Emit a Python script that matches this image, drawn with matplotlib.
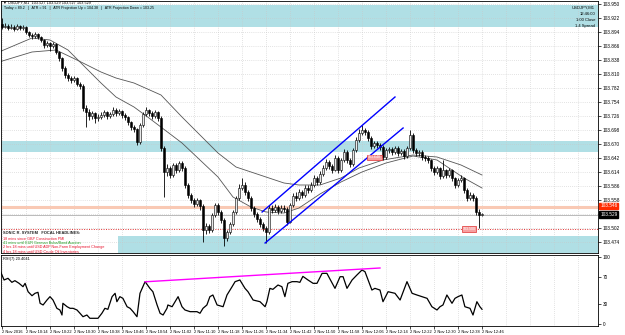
import matplotlib
matplotlib.use("Agg")
import matplotlib.pyplot as plt

plt.rcParams['font.family'] = ['Liberation Sans', 'DejaVu Sans']

# ---- data (USDJPY M1, 2 Nov 2016, 10:06 .. 12:46) ----
first_open = 103.910
closes = [103.904, 103.906, 103.902, 103.904, 103.900, 103.906, 103.902, 103.904, 103.894, 103.888,
          103.886, 103.890, 103.884, 103.878, 103.868, 103.872, 103.866, 103.870, 103.854, 103.842,
          103.822, 103.808, 103.802, 103.798, 103.802, 103.790, 103.786, 103.742, 103.734, 103.726,
          103.732, 103.722, 103.724, 103.728, 103.734, 103.726, 103.730, 103.738, 103.732, 103.736,
          103.728, 103.724, 103.714, 103.704, 103.700, 103.674, 103.708, 103.730, 103.738, 103.732,
          103.726, 103.734, 103.722, 103.662, 103.614, 103.622, 103.608, 103.628, 103.618, 103.632,
          103.622, 103.588, 103.568, 103.558, 103.550, 103.558, 103.546, 103.498, 103.506, 103.498,
          103.528, 103.548, 103.534, 103.518, 103.482, 103.494, 103.510, 103.534, 103.562, 103.582,
          103.588, 103.574, 103.562, 103.542, 103.530, 103.520, 103.510, 103.502, 103.494, 103.542,
          103.538, 103.544, 103.536, 103.542, 103.540, 103.514, 103.548, 103.566, 103.562, 103.574,
          103.568, 103.582, 103.578, 103.588, 103.602, 103.594, 103.610, 103.622, 103.634, 103.626,
          103.618, 103.642, 103.618, 103.638, 103.654, 103.638, 103.630, 103.658, 103.678, 103.692,
          103.698, 103.694, 103.682, 103.666, 103.672, 103.668, 103.664, 103.644, 103.658, 103.660,
          103.654, 103.662, 103.652, 103.656, 103.646, 103.662, 103.688, 103.658, 103.652, 103.654,
          103.644, 103.642, 103.638, 103.622, 103.614, 103.622, 103.606, 103.618, 103.608, 103.618,
          103.602, 103.588, 103.598, 103.602, 103.578, 103.562, 103.568, 103.562, 103.534, 103.528,
          103.529]
highs = [103.922, 103.912, 103.910, 103.910, 103.908, 103.910, 103.908, 103.908, 103.906, 103.896,
         103.892, 103.894, 103.892, 103.886, 103.880, 103.876, 103.874, 103.874, 103.872, 103.856,
         103.844, 103.826, 103.812, 103.806, 103.806, 103.804, 103.794, 103.790, 103.748, 103.740,
         103.736, 103.734, 103.730, 103.734, 103.738, 103.736, 103.734, 103.744, 103.742, 103.740,
         103.738, 103.732, 103.726, 103.716, 103.708, 103.702, 103.712, 103.734, 103.744, 103.740,
         103.736, 103.738, 103.736, 103.726, 103.666, 103.630, 103.626, 103.632, 103.632, 103.636,
         103.636, 103.626, 103.592, 103.572, 103.562, 103.562, 103.560, 103.550, 103.512, 103.510,
         103.532, 103.552, 103.552, 103.538, 103.522, 103.498, 103.514, 103.538, 103.566, 103.590,
         103.602, 103.594, 103.578, 103.566, 103.546, 103.534, 103.524, 103.514, 103.506, 103.548,
         103.548, 103.550, 103.548, 103.548, 103.548, 103.544, 103.552, 103.572, 103.574, 103.580,
         103.578, 103.588, 103.588, 103.594, 103.608, 103.606, 103.616, 103.628, 103.640, 103.638,
         103.630, 103.648, 103.646, 103.642, 103.660, 103.658, 103.642, 103.662, 103.684, 103.700,
         103.708, 103.702, 103.698, 103.686, 103.676, 103.676, 103.672, 103.668, 103.662, 103.664,
         103.664, 103.666, 103.666, 103.660, 103.660, 103.666, 103.698, 103.692, 103.662, 103.658,
         103.658, 103.648, 103.646, 103.640, 103.626, 103.626, 103.624, 103.638, 103.620, 103.622,
         103.620, 103.604, 103.602, 103.608, 103.604, 103.582, 103.574, 103.572, 103.566, 103.540,
         103.532]
lows = [103.900, 103.902, 103.898, 103.900, 103.896, 103.898, 103.898, 103.898, 103.890, 103.884,
        103.880, 103.882, 103.880, 103.874, 103.862, 103.864, 103.856, 103.862, 103.850, 103.836,
        103.816, 103.802, 103.796, 103.792, 103.794, 103.786, 103.780, 103.736, 103.704, 103.718,
        103.720, 103.712, 103.716, 103.720, 103.724, 103.720, 103.722, 103.726, 103.726, 103.728,
        103.722, 103.718, 103.708, 103.698, 103.694, 103.668, 103.670, 103.704, 103.726, 103.726,
        103.720, 103.722, 103.716, 103.656, 103.564, 103.606, 103.602, 103.604, 103.612, 103.614,
        103.616, 103.582, 103.562, 103.552, 103.544, 103.546, 103.538, 103.474, 103.490, 103.492,
        103.494, 103.524, 103.528, 103.512, 103.466, 103.476, 103.490, 103.506, 103.530, 103.558,
        103.578, 103.568, 103.556, 103.536, 103.524, 103.514, 103.504, 103.496, 103.472, 103.490,
        103.532, 103.534, 103.530, 103.532, 103.534, 103.508, 103.512, 103.544, 103.556, 103.558,
        103.562, 103.564, 103.572, 103.574, 103.584, 103.588, 103.590, 103.606, 103.618, 103.620,
        103.612, 103.616, 103.612, 103.614, 103.634, 103.632, 103.624, 103.626, 103.654, 103.674,
        103.688, 103.688, 103.676, 103.660, 103.662, 103.662, 103.658, 103.638, 103.640, 103.652,
        103.648, 103.650, 103.646, 103.648, 103.640, 103.642, 103.658, 103.652, 103.646, 103.646,
        103.638, 103.636, 103.632, 103.616, 103.608, 103.610, 103.600, 103.602, 103.602, 103.604,
        103.596, 103.582, 103.584, 103.594, 103.572, 103.556, 103.558, 103.556, 103.528, 103.502,
        103.526]

# moving averages (bar index, price)
fast_ma_pos = [-1, 10, 16, 22, 27, 33, 38, 44, 49, 60, 72, 77, 83, 88, 94, 99, 106, 113, 120, 128, 137, 145, 149, 154, 160]
fast_ma_val = [103.854, 103.882, 103.878, 103.858, 103.828, 103.792, 103.764, 103.744, 103.722, 103.672,
               103.604, 103.564, 103.544, 103.534, 103.532, 103.542, 103.570, 103.594, 103.614, 103.632,
               103.646, 103.638, 103.622, 103.602, 103.582]
slow_ma_pos = [-1, 10, 18, 25, 33, 38, 44, 53, 60, 72, 78, 83, 88, 94, 99, 106, 113, 119, 127, 137, 145, 153, 160]
slow_ma_val = [103.834, 103.854, 103.858, 103.838, 103.814, 103.802, 103.792, 103.768, 103.724, 103.652,
               103.624, 103.614, 103.604, 103.592, 103.588, 103.588, 103.602, 103.622, 103.638, 103.648,
               103.644, 103.628, 103.608]

# RSI(7) (bar index, value)
rsi_pos = [-0.7, 0.7, 2, 3.3, 4.3, 5.7, 7, 7.7, 8.7, 10, 11, 12, 12.7, 13.7, 15, 16, 17, 18.3, 19.3, 20,
           20.3, 21.7, 22.7, 23.7, 25, 26, 27, 28.3, 29.3, 32, 33.3, 34.3, 35.3, 36.7, 37.7, 38.3, 39.3,
           40.3, 41.7, 42.7, 43.7, 45, 46, 47.7, 49.3, 50.3, 51.7, 52.7, 53.7, 55, 55.3, 56.7, 57.7, 58.7,
           60, 61, 62.7, 65, 66, 67, 68.3, 69.3, 70.3, 71.7, 73.7, 75, 76.7, 77.7, 79.3, 81, 82, 83.7, 86,
           87.7, 88.3, 89.3, 90.3, 92, 93.3, 94.3, 95.3, 96.7, 98.3, 99.3, 100.3, 102, 103.7, 105, 106.7,
           108.3, 111, 112.7, 113.7, 115, 116.7, 118.3, 120, 121, 123.3, 124.3, 126, 127, 128.7, 131,
           132.7, 135, 136.7, 138.3, 140, 141.7, 143.3, 145, 146, 147, 148.3, 150, 151, 152, 153.3,
           154.3, 156, 157, 158.3, 159.3, 160]
rsi_val = [80.6, 65.7, 68.2, 62.2, 64.7, 60.7, 55.7, 60.7, 48.2, 42.2, 45.8, 47.3, 30.9, 28.4, 35.8, 40.8,
           35.8, 23.4, 20.9, 13.4, 30.9, 25.8, 23.4, 23.4, 20.9, 16.0, 10.9, 13.4, 8.5, 8.5, 16.0, 23.4,
           21.9, 40.8, 45.8, 33.3, 40.8, 38.3, 25.8, 23.4, 18.4, 10.9, 45.8, 63.2, 53.2, 48.2, 28.4, 16.0,
           13.4, 23.4, 28.4, 25.8, 33.3, 40.8, 25.8, 20.9, 18.4, 18.4, 16.0, 23.4, 28.4, 40.8, 43.3, 28.4,
           25.8, 43.3, 55.7, 63.2, 65.7, 53.2, 48.2, 35.8, 33.3, 25.8, 33.3, 53.2, 51.7, 58.2, 55.7, 40.8,
           60.7, 63.2, 63.2, 62.2, 71.1, 65.7, 60.7, 60.7, 75.6, 75.6, 53.2, 70.6, 70.6, 53.2, 65.7, 73.1,
           80.6, 78.1, 50.7, 53.2, 50.7, 33.3, 48.2, 45.8, 35.8, 63.2, 45.8, 43.3, 40.8, 38.3, 25.8, 20.9,
           25.8, 28.4, 43.3, 30.9, 38.3, 40.8, 43.3, 25.8, 23.4, 13.4, 33.3, 25.8, 22.0]

time_labels = ["2 Nov 2016", "2 Nov 10:14", "2 Nov 10:22", "2 Nov 10:30", "2 Nov 10:38", "2 Nov 10:46",
               "2 Nov 10:54", "2 Nov 11:02", "2 Nov 11:10", "2 Nov 11:18", "2 Nov 11:26", "2 Nov 11:34",
               "2 Nov 11:42", "2 Nov 11:50", "2 Nov 11:58", "2 Nov 12:06", "2 Nov 12:14", "2 Nov 12:22",
               "2 Nov 12:30", "2 Nov 12:38", "2 Nov 12:46"]
price_ticks = [103.950, 103.922, 103.894, 103.866, 103.838, 103.810, 103.782, 103.754, 103.726,
               103.698, 103.670, 103.642, 103.614, 103.586, 103.558, 103.530, 103.502, 103.474]

zones = [(103.904, 103.948, -0.33), (103.654, 103.676, -0.33), (103.452, 103.486, 38.7)]
channel_up = ([86.7, 131.0], [103.534, 103.764])
channel_dn = ([87.7, 133.7], [103.472, 103.702])
rsi_div = ([47.7, 126.0], [63.0, 83.6])

headlines = [("18 mins since GBP Construction PMI", "#e8102a"),
             ("41 mins until EUR German Buba/Bond Auction", "#1a9a1a"),
             ("2 hrs 18 mins until USD ADP Non-Farm Employment Change", "#e8102a"),
             ("4 hrs 18 mins until USD Crude Oil Inventories", "#e8102a")]

# ---- figure ----
W, H = 625, 335
fig = plt.figure(figsize=(W / 100, H / 100), dpi=100)
fig.patch.set_facecolor("white")


def fx(x):
    return x / W


def fy(y):
    return 1 - y / H


ax = fig.add_axes([fx(1), fy(253), fx(597), 252 / H])
rsi = fig.add_axes([fx(1), fy(326), fx(597), 71 / H], sharex=ax)

ymin, ymax = 103.452, 103.956
ax.set_ylim(ymin, ymax)
ax.set_xlim(-0.33, 198.67)
rsi.set_ylim(-3, 103)

# zones
for lo, hi, x0 in zones:
    ax.fill_between([x0, 198.67], lo, hi, color="#b0dfe5", lw=0, zorder=0)

# grid
grid_kw = dict(color="#c8c8c8", lw=0.5, ls=(0, (1, 2)))
xt = list(range(0, 161, 8))
for a in (ax, rsi):
    for t in xt + [168, 176, 184, 192]:
        a.axvline(t, zorder=0.5, **grid_kw)
for p in price_ticks:
    ax.axhline(p, zorder=0.5, **grid_kw)

# horizontal levels
ax.axhline(103.544, color="#f9c9b4", lw=2.2, zorder=1)
ax.axhline(103.529, color="#b0b0b0", lw=0.6, zorder=1)
ax.axhline(103.500, color="#e03030", lw=0.7, ls=(0, (1, 1.5)), zorder=1)

# moving averages
ax.plot(fast_ma_pos, fast_ma_val, color="#555555", lw=0.6, zorder=2)
ax.plot(slow_ma_pos, slow_ma_val, color="#555555", lw=0.6, zorder=2)

# candles
opens = [first_open] + closes[:-1]
idx = list(range(len(closes)))
ax.vlines(idx, lows, highs, color="black", lw=0.6, zorder=3)
bull = [i for i in idx if closes[i] >= opens[i]]
bear = [i for i in idx if closes[i] < opens[i]]
ax.bar(bull, [max(closes[i] - opens[i], 0.0008) for i in bull], bottom=[opens[i] for i in bull],
       width=0.7, color="#e8e8e8", edgecolor="black", lw=0.4, zorder=4)
ax.bar(bear, [closes[i] - opens[i] for i in bear], bottom=[opens[i] for i in bear],
       width=0.7, color="black", edgecolor="black", lw=0.4, zorder=4)

# channel
ax.plot(*channel_up, color="#0000ff", lw=1.0, zorder=5)
ax.plot(*channel_dn, color="#0000ff", lw=1.0, zorder=5)

# small price labels on chart
box = dict(boxstyle="square,pad=0.15", fc="#f6a0a0", ec="#e03030", lw=0.5)
ax.text(122.0, 103.643, "103.648", fontsize=2.6, color="white", ha="left", va="center", bbox=box, zorder=6)
ax.text(153.5, 103.500, "103.500", fontsize=2.6, color="white", ha="left", va="center", bbox=box, zorder=6)

# axes styling
for a in (ax, rsi):
    for s in a.spines.values():
        s.set_color("black")
        s.set_linewidth(0.6)
    a.yaxis.tick_right()
    a.tick_params(axis="y", length=2, width=0.5, pad=1.5, labelsize=3.4, colors="black")
ax.set_yticks(price_ticks)
# the 103.530 label sits under the current-price box, as in the terminal
ax.set_yticklabels(["" if abs(p - 103.530) < 1e-6 else f"{p:.3f}" for p in price_ticks])
ax.tick_params(axis="x", length=0, labelbottom=False)

rsi.set_yticks([0, 30, 70, 100])
rsi.set_yticklabels(["0", "30", "70", "100"])
rsi.set_xticks(xt)
rsi.set_xticklabels(time_labels, fontsize=2.9, ha="left")
rsi.tick_params(axis="x", length=2, width=0.5, pad=1.0)

# current price boxes on price scale
ax.annotate("103.546", xy=(1.0, 103.546), xycoords=("axes fraction", "data"), xytext=(1.5, 0),
            textcoords="offset points", fontsize=3.4, color="white", va="center", ha="left",
            bbox=dict(boxstyle="square,pad=0.2", fc="#ff2a00", ec="#ff2a00"), annotation_clip=False)
ax.annotate("103.529", xy=(1.0, 103.529), xycoords=("axes fraction", "data"), xytext=(1.5, 0),
            textcoords="offset points", fontsize=3.4, color="white", va="center", ha="left",
            bbox=dict(boxstyle="square,pad=0.2", fc="black", ec="black"), annotation_clip=False)

# RSI
rsi.plot(rsi_pos, rsi_val, color="black", lw=0.9, zorder=3)
rsi.plot(*rsi_div, color="#ff00ff", lw=1.0, zorder=4)

# texts
fig.text(fx(3), fy(3), "\u25bc USDJPY,M1  103.527 103.529 103.527 103.529", fontsize=2.8, va="center")
fig.text(fx(4), fy(8.5), "Today = 89.2   |   ATR = 91   |   ATR Projection Up = 104.38   |   ATR Projection Down = 103.25",
         fontsize=2.6, va="center")
for k, s in enumerate(["USDJPY,M1", "12:46:00", "1:00 Close", "1.4 Spread"]):
    fig.text(fx(595), fy(8 + 6 * k), s, fontsize=3.0, ha="right", va="center")
fig.text(fx(3), fy(233), "SONIC R. SYSTEM   FOCAL HEADLINES:", fontsize=2.9, va="center", color="#222222",
         weight="bold")
for k, (s, c) in enumerate(headlines):
    fig.text(fx(3), fy(238.5 + 4.4 * k), s, fontsize=2.7, va="center", color=c)
fig.text(fx(3), fy(259), "RSI(7) 20.4041", fontsize=2.8, va="center")

fig.savefig("out.png", dpi=100)
